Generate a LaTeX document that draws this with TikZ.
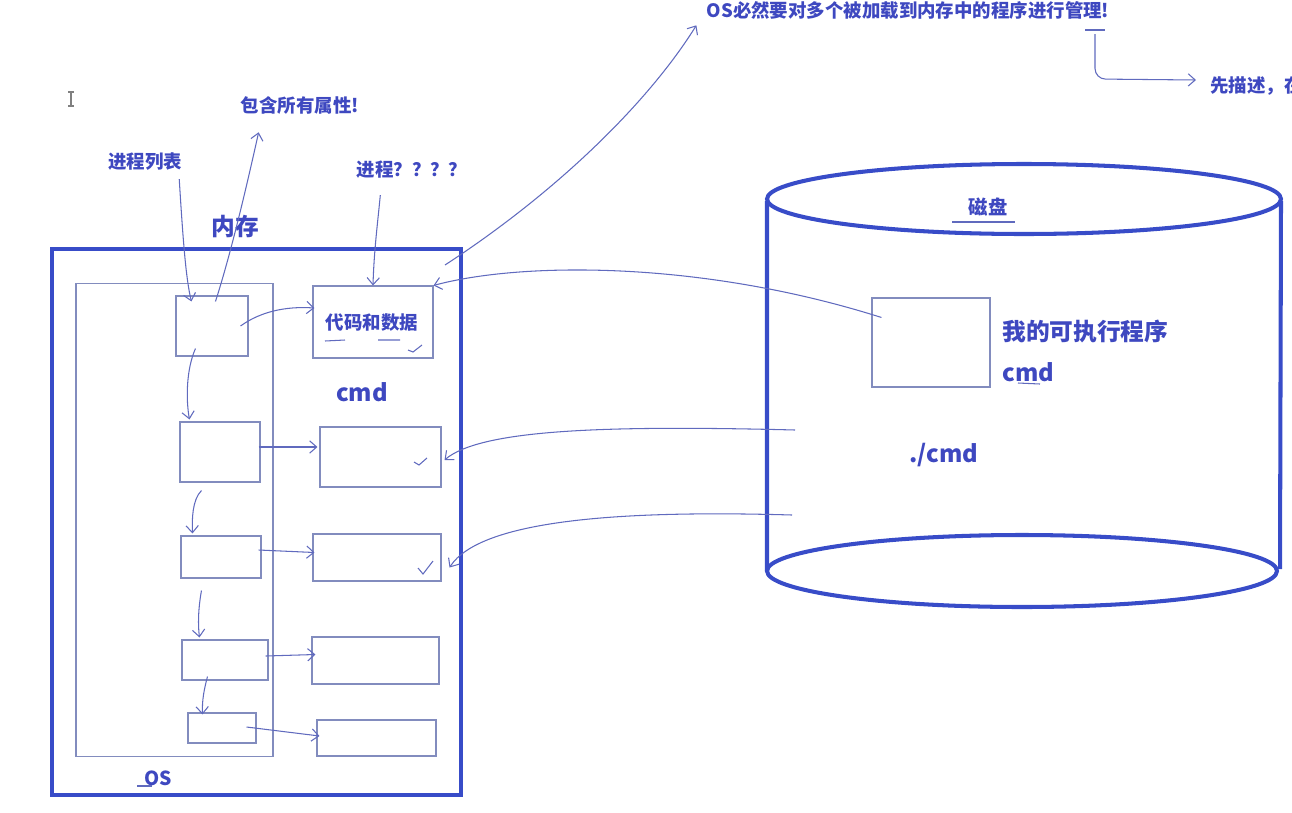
\documentclass[tikz,border=0pt]{standalone}
\usepackage{fontspec}
\setmainfont{Noto Sans CJK SC}
\usepackage{tikz}
\usetikzlibrary{arrows.meta,calc}
\definecolor{penblue}{RGB}{56,76,200}
\definecolor{inkblue}{RGB}{62,72,192}
\definecolor{thinblue}{RGB}{96,106,190}
\definecolor{boxgray}{RGB}{130,140,190}
\tikzset{
	label/.style={text=inkblue,font=\bfseries\fontsize{10.5}{12}\selectfont,inner sep=0pt},
	big/.style={text=inkblue,font=\bfseries\fontsize{13.5}{15}\selectfont,inner sep=0pt},
	box/.style={draw=boxgray,line width=0.6pt,inner sep=0pt},
	thick box/.style={draw=penblue,line width=2.3pt,inner sep=0pt},
	arr/.style={thinblue,line width=0.6pt,-{Straight Barb[length=4pt,width=7pt]}},
	penstroke/.style={thinblue,line width=0.6pt},
}
\begin{document}
\begin{tikzpicture}[x=0.02cm,y=-0.02cm]
		\useasboundingbox (0,0) rectangle (1292,812);
		\clip (0,0) rectangle (1292,812);
		% memory and os area
		\node[thick box,minimum width=8.18cm,minimum height=10.92cm] (mem) at (256.5,522) {};
		\node[box,minimum width=3.94cm,minimum height=9.48cm] (os) at (174.5,520) {};
		\node[big] (memtxt) at (235,226) {内存};
		\node[label,font=\bfseries\fontsize{11}{13}\selectfont] (ostxt) at (158,778) {OS};
		% process list (left) and code/data (right)
		\foreach \n/\cx/\cy/\w/\h in {p1/212/326/72/60, p2/220/452/80/60, p3/221/557/80/42,
				p4/225/660/86/40, p5/222/728/68/30, c1/373/322/120/72, c2/380.5/457/121/60,
				c3/377/557.5/128/47, c4/375.5/660.5/127/47, c5/376.5/738/119/36}
			\node[box,minimum width={\w*0.02cm},minimum height={\h*0.02cm}] (\n) at (\cx,\cy) {};
		\node[label] (code) at (372,323) {代码和数据};
		\node[big] (cmdtxt) at (362,392) {cmd};
		% disk
		\draw[penblue,line width=2.3pt] (1024,199) ellipse [x radius=257, y radius=35];
		\draw[penblue,line width=2.3pt] (1022,571) ellipse [x radius=255, y radius=36];
		\draw[penblue,line width=2.3pt] (767,201) -- (767,571) (1281,201) -- (1280,569);
		\node[label,font=\bfseries\fontsize{11}{13}\selectfont] (disk) at (988,207) {磁盘};
		\node[box,minimum width=2.36cm,minimum height=1.78cm] (exe) at (931,342.5) {};
		\node[big,anchor=west] (exetxt) at (1002,331) {我的可执行程序};
		\node[big,anchor=west] (exename) at (1002,372) {cmd};
		\node[big] (run) at (944,455) {./cmd};
		% remarks
		\node[label] (attr) at (300,105) {包含所有属性!};
		\node[label] (list) at (145,162) {进程列表};
		\node[label] (proc) at (412,170) {进程？？？？};
		\node[label] (manage) at (908,10) {OS必然要对多个被加载到内存中的程序进行管理!};
		\node[label,anchor=west] (describe) at (1210,86) {先描述，在};
		% text cursor
		\draw[gray,line width=0.6pt] (68,92) -- (74,92) (71,92) -- (71,106) (68,106) -- (74,106);
		\coordinate (d2) at (795,430);
		\coordinate (d3) at (792,515);
		\coordinate (osm) at (445,265);
		\coordinate (uline) at (1095,34);
		% hand drawn arrows
		\draw[arr] ($(list.south east)+(-3,8)$) .. controls (183,240) and (186,280) .. ($(p1.north west)+(16,6)$);
		\draw[arr] ($(p1.north west)+(40,6)$) .. controls (232,250) and (248,180) .. ($(attr.south west)+(18,18)$);
		\draw[arr] ($(proc.south west)+(24,16)$) .. controls (378,220) and (374,250) .. (c1.north);
		\draw[arr] (osm) .. controls (560,190) and (650,100) .. ($(manage.south west)+(-10,6)$);
		\draw[arr] ($(exe.north west)+(10,20)$) .. controls (700,260) and (520,262) .. (c1.north east);
		\draw[arr] (d2) .. controls (600,425) and (480,430) .. ($(c2.east)+(3,3)$);
		\draw[arr] (d3) .. controls (620,510) and (480,520) .. ($(c3.east)+(8,10)$);
		\draw[arr] ($(p1.east)+(-8,0)$) .. controls (260,312) and (285,306) .. ($(c1.west)+(2,-14)$);
		\draw[arr] ($(p2.east)+(-2,-5)$) -- ($(c2.west)+(-2,-10)$);
		\draw[arr] ($(p3.east)+(-3,-7)$) -- ($(c3.west)+(2,-5)$);
		\draw[arr] ($(p4.east)+(-3,-4)$) -- ($(c4.west)+(4,-6)$);
		\draw[arr] ($(p5.east)+(-10,-1)$) -- ($(c5.west)+(3,-2)$);
		\draw[arr] ($(p1.south west)+(20,-8)$) .. controls (186,370) and (186,400) .. ($(p2.north west)+(10,-2)$);
		\draw[arr] ($(p2.south west)+(22,8)$) .. controls (192,500) and (192,520) .. ($(p3.north west)+(12,-2)$);
		\draw[arr] ($(p3.south west)+(21,12)$) .. controls (198,610) and (198,625) .. ($(p4.north west)+(18,-2)$);
		\draw[arr] ($(p4.south west)+(26,-4)$) .. controls (204,690) and (202,700) .. ($(p5.north west)+(15,2)$);
		\draw[arr,rounded corners=6pt] (uline) -- (1095,79) -- ($(describe.west)+(-14,-6)$);
		% underlines and ticks
		\draw[penstroke] (1085,30) -- (1105,30);
		\draw[penstroke] (325,341) -- (345,340) (378,340) -- (400,340);
		\draw[penstroke] (408,350) -- (413,352) -- (422,345);
		\draw[penstroke] (414,462) -- (419,465) -- (427,458);
		\draw[penstroke] (418,568) -- (423,574) -- (433,561);
		\draw[penstroke] (952,222) -- (1015,222);
		\draw[penstroke] (1018,383) -- (1040,384);
		\draw[penstroke] (137,786) -- (152,786);
\end{tikzpicture}
\end{document}
